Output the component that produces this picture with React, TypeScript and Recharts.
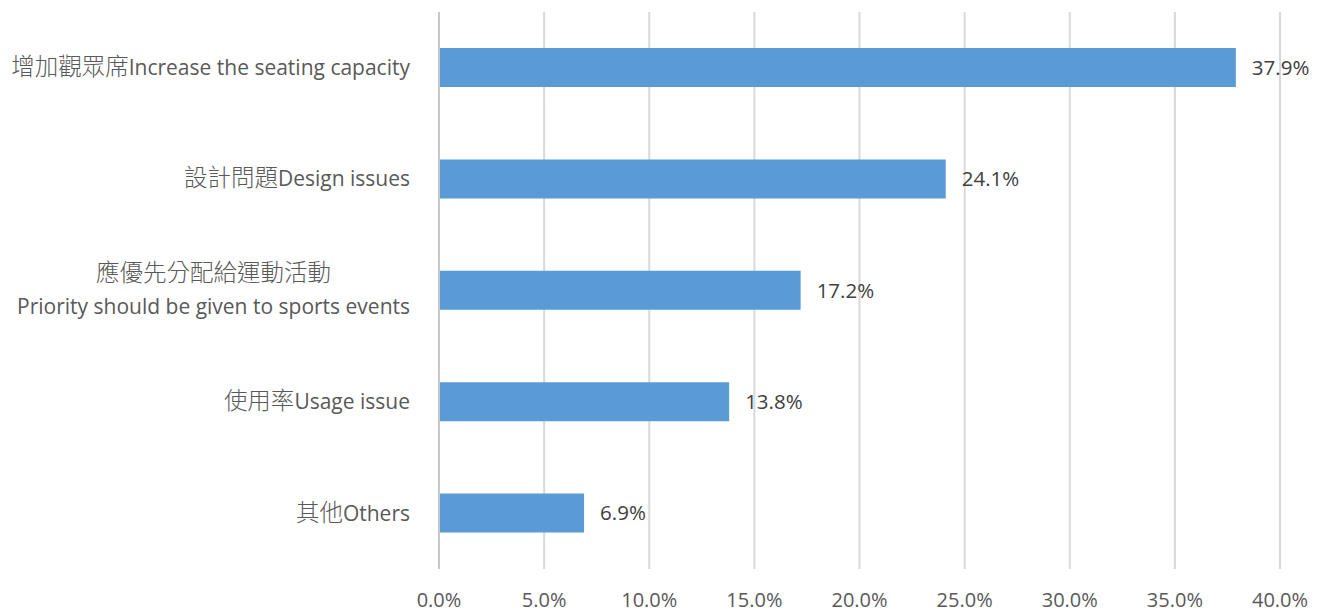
import { BarChart, Bar, XAxis, YAxis, CartesianGrid, LabelList, ReferenceLine } from "recharts";

const categories = [
  "增加觀眾席Increase the seating capacity",
  "設計問題Design issues",
  "應優先分配給運動活動\nPriority should be given to sports events",
  "使用率Usage issue",
  "其他Others",
];
const shares = [0.379, 0.241, 0.172, 0.138, 0.069];
const xTicks = [0, 0.05, 0.1, 0.15, 0.2, 0.25, 0.3, 0.35, 0.4];

const data = categories.map((name, i) => ({ name, value: shares[i] }));

const FONT = '"Open Sans", "Noto Sans CJK TC", sans-serif';
const LATIN_SIZE = 21;
const CJK_SIZE = 23.5;
const pct = (v: number) => `${(v * 100).toFixed(1)}%`;

// split a line into CJK / non-CJK runs so the CJK part can be a bit bigger and lighter
const splitRuns = (s: string) =>
  s.match(/[\u3000-\u9fff\uff00-\uffef]+|[^\u3000-\u9fff\uff00-\uffef]+/g) || [];
const isCjk = (s: string) => /[\u3000-\u9fff]/.test(s);

let ctx: CanvasRenderingContext2D | null = null;
function lineWidth(line: string) {
  if (!ctx) ctx = document.createElement("canvas").getContext("2d");
  if (!ctx) return 0;
  return splitRuns(line).reduce((w, run) => {
    ctx!.font = isCjk(run) ? `300 ${CJK_SIZE}px ${FONT}` : `${LATIN_SIZE}px ${FONT}`;
    return w + ctx!.measureText(run).width;
  }, 0);
}

function CategoryTick({ x, y, payload }: any) {
  const lines = String(payload.value).split("\n");
  const lh = 33;
  const first = -((lines.length - 1) * lh) / 2;
  const multi = lines.length > 1;
  const blockW = multi ? Math.max(...lines.map(lineWidth)) : 0;
  const lx = multi ? x - blockW / 2 : x;
  return (
    <text x={x} y={y} fill="#595959" fontSize={LATIN_SIZE} fontFamily={FONT}>
      {lines.map((l, i) => (
        <tspan
          key={i}
          x={lx}
          y={y + first + i * lh}
          dy="0.35em"
          textAnchor={multi ? "middle" : "end"}
        >
          {splitRuns(l).map((run, j) =>
            isCjk(run) ? (
              <tspan key={j} fontSize={CJK_SIZE} fontWeight={300}>
                {run}
              </tspan>
            ) : (
              <tspan key={j}>{run}</tspan>
            )
          )}
        </tspan>
      ))}
    </text>
  );
}

export default function App() {
  return (
    <div style={{ position: "absolute", left: 0, top: 0, background: "#fff" }}>
      <BarChart
        width={1326}
        height={613}
        data={data}
        layout="vertical"
        margin={{ top: 12, right: 46, bottom: 0, left: 0 }}
      >
        <CartesianGrid horizontal={false} stroke="#d9d9d9" strokeWidth={2} />
        <XAxis
          type="number"
          domain={[0, 0.4]}
          ticks={xTicks}
          tickFormatter={pct}
          axisLine={false}
          tickLine={false}
          height={44}
          tickSize={0}
          tickMargin={24}
          interval={0}
          tick={{ fill: "#595959", fontSize: 20, fontFamily: FONT }}
        />
        <YAxis
          type="category"
          dataKey="name"
          width={439}
          axisLine={false}
          tickLine={false}
          tickSize={0}
          tickMargin={29}
          interval={0}
          tick={<CategoryTick />}
        />
        <ReferenceLine x={0} stroke="#c8c8c8" strokeWidth={2} />
        <Bar dataKey="value" fill="#5b9bd5" barSize={39} isAnimationActive={false}>
          <LabelList
            dataKey="value"
            position="right"
            offset={16}
            formatter={(v: any) => pct(Number(v))}
            fill="#404040"
            fontSize={20.5}
            fontFamily={FONT}
          />
        </Bar>
      </BarChart>
    </div>
  );
}
